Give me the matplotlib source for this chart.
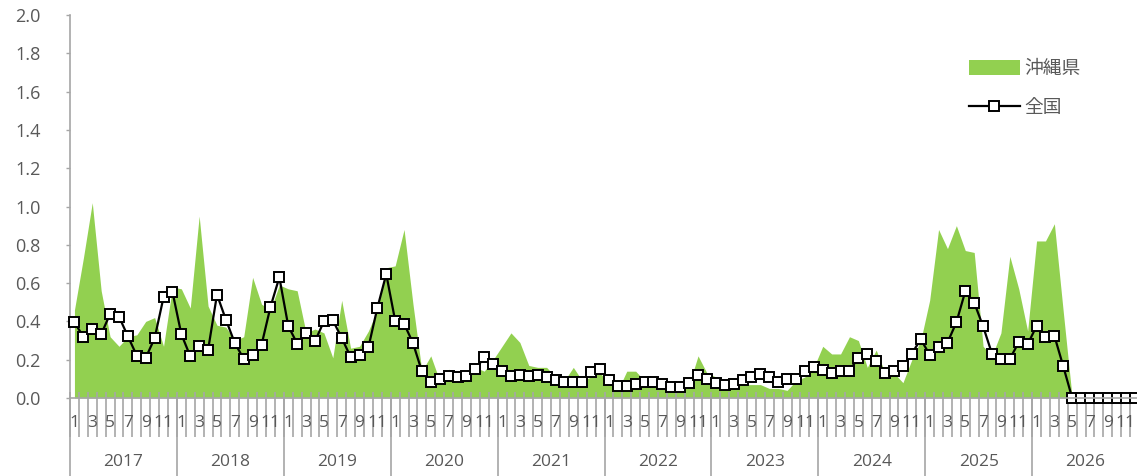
"""Monthly index: Okinawa (area) vs. national (line), 2017-2026."""

import numpy as np
import matplotlib
matplotlib.use('Agg')
import matplotlib.pyplot as plt
from matplotlib.patches import Patch
from matplotlib.lines import Line2D
from matplotlib.transforms import blended_transform_factory

years = ['2017', '2018', '2019', '2020', '2021', '2022', '2023', '2024', '2025', '2026']
month_labels = ['1', '', '3', '', '5', '', '7', '', '9', '', '11', '']

# 沖縄県 (green area)
okinawa = [
    0.46, 0.73, 1.02, 0.56, 0.32, 0.27, 0.32, 0.33, 0.40, 0.42, 0.27, 0.58,
    0.57, 0.47, 0.95, 0.48, 0.38, 0.37, 0.30, 0.32, 0.63, 0.49, 0.46, 0.59,
    0.57, 0.56, 0.34, 0.36, 0.34, 0.21, 0.51, 0.26, 0.27, 0.35, 0.46, 0.68,
    0.69, 0.88, 0.49, 0.14, 0.22, 0.09, 0.15, 0.13, 0.14, 0.16, 0.14, 0.20,
    0.27, 0.34, 0.29, 0.17, 0.16, 0.16, 0.11, 0.09, 0.16, 0.09, 0.11, 0.13,
    0.08, 0.04, 0.14, 0.14, 0.09, 0.08, 0.06, 0.04, 0.06, 0.07, 0.22, 0.13,
    0.11, 0.07, 0.06, 0.07, 0.07, 0.07, 0.05, 0.05, 0.04, 0.09, 0.11, 0.16,
    0.27, 0.23, 0.23, 0.32, 0.30, 0.16, 0.25, 0.13, 0.13, 0.08, 0.20, 0.30,
    0.51, 0.88, 0.78, 0.90, 0.77, 0.76, 0.27, 0.22, 0.34, 0.74, 0.57, 0.35,
    0.82, 0.82, 0.91, 0.45, 0.0, 0.0, 0.0, 0.0, 0.0, 0.0, 0.0, 0.0,
]

# 全国 (line with square markers)
zenkoku = [
    0.395, 0.32, 0.359, 0.333, 0.439, 0.425, 0.322, 0.221, 0.21, 0.312, 0.526, 0.555,
    0.333, 0.218, 0.272, 0.251, 0.54, 0.409, 0.287, 0.204, 0.225, 0.277, 0.475, 0.63,
    0.376, 0.284, 0.338, 0.296, 0.40, 0.406, 0.314, 0.214, 0.226, 0.265, 0.47, 0.647,
    0.404, 0.388, 0.287, 0.139, 0.085, 0.099, 0.115, 0.11, 0.117, 0.15, 0.212, 0.178,
    0.139, 0.115, 0.118, 0.113, 0.12, 0.11, 0.092, 0.084, 0.084, 0.084, 0.134, 0.15,
    0.096, 0.064, 0.063, 0.075, 0.084, 0.084, 0.075, 0.057, 0.057, 0.078, 0.12, 0.101,
    0.077, 0.068, 0.075, 0.096, 0.108, 0.127, 0.11, 0.084, 0.098, 0.098, 0.139, 0.164,
    0.145, 0.132, 0.139, 0.143, 0.21, 0.228, 0.192, 0.133, 0.139, 0.166, 0.232, 0.307,
    0.226, 0.265, 0.289, 0.395, 0.557, 0.498, 0.374, 0.231, 0.204, 0.204, 0.291, 0.28,
    0.376, 0.317, 0.325, 0.165, 0.0, 0.0, 0.0, 0.0, 0.0, 0.0, 0.0, 0.0,
]

green = '#92D050'
axis_gray = '#A6A6A6'
text_gray = '#595959'
num_font = 'Open Sans'
jp_font = ['Noto Sans CJK JP', 'DejaVu Sans']

W, H = 1137, 476
fig = plt.figure(figsize=(W / 100, H / 100), dpi=100)
# plot area: x 70..1139 px, y 15..398 px
ax = fig.add_axes([70 / W, (H - 398) / H, 1069 / W, 383 / H])

x = np.arange(len(okinawa))
ax.fill_between(x, 0, okinawa, color=green, lw=0, zorder=1)
ax.plot(x, zenkoku, color='black', lw=1.6, marker='s', markersize=7.8,
        markerfacecolor='white', markeredgecolor='black', markeredgewidth=1.4,
        zorder=3, clip_on=False)

ax.set_xlim(-0.5, len(x) - 0.5)
ax.set_ylim(0, 2.0)

# y axis
ax.set_yticks(np.arange(0, 2.01, 0.2))
ax.set_yticklabels([f'{v:.1f}' for v in np.arange(0, 2.01, 0.2)],
                   fontsize=13, color=text_gray, family=num_font)
ax.tick_params(axis='y', direction='out', length=3, width=1, color=axis_gray, pad=18)

for s in ['top', 'right']:
    ax.spines[s].set_visible(False)
for s in ['left', 'bottom']:
    ax.spines[s].set_color(axis_gray)
    ax.spines[s].set_linewidth(1.2)
ax.spines['bottom'].set_zorder(4)

# x axis: month boundaries as ticks
bounds = np.arange(-0.5, len(x), 1)
ax.set_xticks(bounds)
ax.set_xticklabels([])
ax.tick_params(axis='x', direction='out', length=28, width=1.2, color=axis_gray)
ax.set_xticks(bounds, minor=True)
ax.xaxis.remove_overlapping_locs = False
ax.tick_params(axis='x', which='minor', direction='in', length=4.5, width=1.2, color=axis_gray)

trans = blended_transform_factory(ax.transData, ax.transAxes)
for i in range(len(x)):
    lab = month_labels[i % 12]
    if lab:
        ax.text(i, -0.066, lab, transform=trans, ha='center', va='center',
                fontsize=12.5, color=text_gray, family=num_font)
for k, yr in enumerate(years):
    ax.text(k * 12 + 5.5, -0.168, yr, transform=trans, ha='center', va='center',
            fontsize=12.5, color=text_gray, family=num_font)
    ax.plot([k * 12 - 0.5] * 2, [0, -0.203], transform=trans, color=axis_gray,
            lw=1.2, clip_on=False)

handles = [Patch(facecolor=green, edgecolor='none'),
           Line2D([], [], color='black', lw=1.6, marker='s', markersize=7.8,
                  markerfacecolor='white', markeredgecolor='black', markeredgewidth=1.4)]
leg = fig.legend(handles, ['沖縄県', '全国'], loc='upper left',
                 bbox_to_anchor=(952 / W, 1 - 41 / H), frameon=False,
                 prop={'family': jp_font, 'size': 13.5}, handlelength=2.7,
                 handleheight=0.85, handletextpad=0.25, labelspacing=0.95)
for t in leg.get_texts():
    t.set_color(text_gray)

fig.savefig('out.png', dpi=100)
